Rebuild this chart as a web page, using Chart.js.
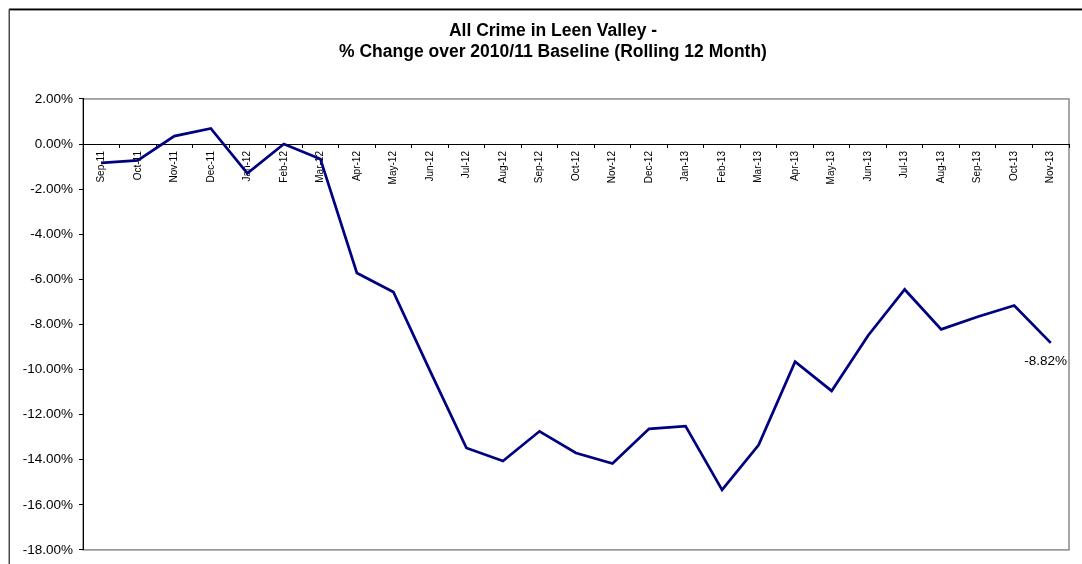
<!DOCTYPE html>
<html>
<head>
<meta charset="utf-8">
<title>All Crime in Leen Valley</title>
<script src="https://cdn.jsdelivr.net/npm/chart.js@4/dist/chart.umd.min.js"></script>
<style>
  html, body { margin: 0; padding: 0; background: #ffffff; }
  #wrap { position: relative; width: 1082px; height: 564px; }
</style>
</head>
<body>
<div id="wrap"><canvas id="chart"></canvas></div>
<script>
// Rolling 12-month % change against the 2010/11 baseline
const months = [
  'Sep-11', 'Oct-11', 'Nov-11', 'Dec-11', 'Jan-12', 'Feb-12', 'Mar-12',
  'Apr-12', 'May-12', 'Jun-12', 'Jul-12', 'Aug-12', 'Sep-12', 'Oct-12',
  'Nov-12', 'Dec-12', 'Jan-13', 'Feb-13', 'Mar-13', 'Apr-13', 'May-13',
  'Jun-13', 'Jul-13', 'Aug-13', 'Sep-13', 'Oct-13', 'Nov-13'
];
const pctChange = [
  -0.83, -0.72, 0.35, 0.69, -1.30, 0.00, -0.66,
  -5.72, -6.56, -10.05, -13.48, -14.06, -12.74, -13.70,
  -14.17, -12.63, -12.51, -15.34, -13.35, -9.65, -10.95,
  -8.49, -6.45, -8.22, -7.66, -7.16, -8.82
];
const yTickValues = [2, 0, -2, -4, -6, -8, -10, -12, -14, -16, -18];
const titleLines = [
  'All Crime in Leen Valley -',
  '% Change over 2010/11 Baseline (Rolling 12 Month)'
];

const FONT = "'Liberation Sans', Arial, sans-serif";

// Outer chart frame and the grey plot-area border, painted under the axes
const framePlugin = {
  id: 'frame',
  beforeDraw(chart) {
    const { ctx, chartArea: a } = chart;
    ctx.save();
    ctx.lineWidth = 1.5;
    ctx.strokeStyle = '#000000';
    ctx.beginPath();
    ctx.moveTo(9, 9.25);
    ctx.lineTo(chart.width, 9.25);
    ctx.stroke();
    ctx.strokeStyle = '#9a9a9a';
    ctx.lineWidth = 1;
    ctx.beginPath();
    ctx.moveTo(10, 10.5);
    ctx.lineTo(chart.width, 10.5);
    ctx.stroke();
    ctx.strokeStyle = '#4a4a4a';
    ctx.lineWidth = 1.5;
    ctx.beginPath();
    ctx.moveTo(9.25, 9);
    ctx.lineTo(9.25, chart.height);
    ctx.stroke();
    ctx.strokeStyle = '#8a8a8a';
    ctx.lineWidth = 1.5;
    ctx.strokeRect(a.left, a.top, a.right - a.left, a.bottom - a.top);
    ctx.restore();
  }
};

// Value label for the latest month
const lastLabelPlugin = {
  id: 'lastLabel',
  afterDatasetsDraw(chart) {
    const meta = chart.getDatasetMeta(0);
    const i = meta.data.length - 1;
    const pt = meta.data[i];
    const v = chart.data.datasets[0].data[i];
    const { ctx } = chart;
    ctx.save();
    ctx.font = '13.5px ' + FONT;
    ctx.fillStyle = '#000000';
    ctx.textAlign = 'center';
    ctx.textBaseline = 'middle';
    ctx.fillText(v.toFixed(2) + '%', pt.x - 5, pt.y + 18);
    ctx.restore();
  }
};

new Chart(document.getElementById('chart'), {
  type: 'line',
  data: {
    labels: months,
    datasets: [{
      data: pctChange,
      yAxisID: 'y',
      borderColor: '#000080',
      borderWidth: 2.75,
      pointRadius: 0,
      pointHoverRadius: 0,
      tension: 0,
      fill: false
    }]
  },
  options: {
    responsive: true,
    maintainAspectRatio: false,
    animation: false,
    events: [],
    layout: { padding: { left: 20, right: -4, top: 0, bottom: 13 } },
    plugins: {
      legend: { display: false },
      tooltip: { enabled: false },
      title: {
        display: true,
        text: titleLines,
        color: '#000000',
        font: { family: FONT, size: 17.5, weight: 'bold', lineHeight: 1.17 },
        padding: { top: 21, bottom: 37 }
      }
    },
    scales: {
      x: {
        type: 'category',
        position: { y: 0 },
        offset: true,
        afterFit(scale) { scale.height = 0; },
        grid: {
          offset: true,
          drawOnChartArea: false,
          drawTicks: true,
          tickLength: 3,
          color: '#000000',
          lineWidth: 1
        },
        border: { display: true, color: '#000000', width: 1 },
        ticks: {
          autoSkip: false,
          minRotation: 90,
          maxRotation: 90,
          padding: 4,
          color: '#000000',
          font: { family: FONT, size: 10 }
        }
      },
      y: {
        position: 'left',
        min: -18,
        max: 2,
        afterFit(scale) { scale.width = 63; },
        afterBuildTicks(scale) {
          scale.ticks = yTickValues.map(v => ({ value: v }));
        },
        grid: {
          drawOnChartArea: false,
          drawTicks: true,
          tickLength: 4,
          color: '#000000'
        },
        border: { display: true, color: '#000000', width: 1 },
        ticks: {
          padding: 6,
          color: '#000000',
          font: { family: FONT, size: 13.5 },
          callback: v => Number(v).toFixed(2) + '%'
        }
      },
      // empty right-hand margin of the plot area
      yRight: {
        position: 'right',
        display: true,
        afterFit(scale) { scale.width = 17; },
        grid: { display: false, drawTicks: false },
        border: { display: false },
        ticks: { display: false }
      }
    }
  },
  plugins: [framePlugin, lastLabelPlugin]
});
</script>
</body>
</html>
